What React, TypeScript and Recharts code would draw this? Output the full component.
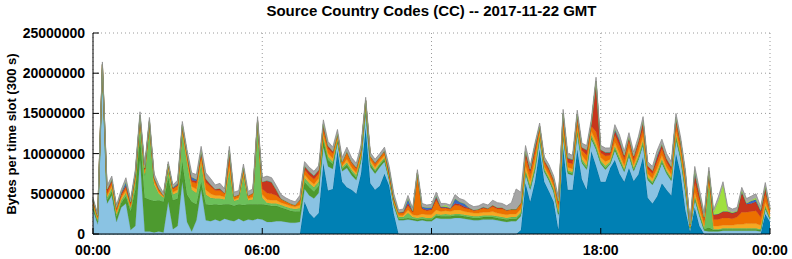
import { AreaChart, Area, XAxis, YAxis, CartesianGrid } from "recharts";

const MB = 1000000;
const title = "Source Country Codes (CC) -- 2017-11-22 GMT";
const yLabel = "Bytes per time slot (300 s)";
const xTicks = [0, 360, 720, 1080, 1440];
const xLabels = ["00:00", "06:00", "12:00", "18:00", "00:00"];
const yTicks = [0, 5, 10, 15, 20, 25];

// values in MB, one per 10 minutes (00:00 .. 24:00), bottom layer first
const teal = [
  0, 0, 0, 0, 0, 0, 0, 0, 0, 0, 0, 0, 0, 0, 0, 0, 0, 0, 0, 0, 0, 0, 0, 0, 0, 0, 0, 0, 0, 0, 0, 0, 0, 0, 0, 0, 0,
  0, 0, 0, 0, 0, 0, 0, 0, 4.0, 2.6, 2.0, 2.6, 8.8, 5.4, 5.6, 10.4, 6.5, 5.8, 5.5, 5.0, 7.5, 13.2, 6.3, 5.5, 6.0, 7.5, 6.0, 2.5, 0, 0, 0, 0, 0, 0, 0, 0,
  0, 0, 0, 0, 0, 0, 0, 0, 0, 0, 0, 0, 0, 0, 0, 0, 0, 0, 0.5, 6.3, 4.0, 6.5, 10.5, 6.5, 5.3, 4.0, 0.5, 10.7, 5.5, 5.5, 10.5, 6.8, 5.5, 10.3, 8.5, 6.5,
  6.5, 8.2, 9.2, 7.5, 6.5, 8.2, 6.6, 7.4, 9.6, 4.5, 3.8, 4.7, 6.3, 5.5, 4.8, 10.0, 7.5, 3.0, 0.3, 3.3, 1.0, 0, 0, 0, 0, 0, 0, 0, 0, 0, 0, 0, 0, 0, 2.5, 1.5,
];
const lightBlue = [
  3.0, 1.2, 20.2, 3.8, 4.8, 1.5, 3.3, 3.8, 0.5, 1.0, 9.2, 0.3, 0.3, 0.2, 0.3, 0.2, 4.0, 0.6, 1.0, 6.5, 1.5, 0.3, 1.7, 5.5, 1.7, 1.6, 1.8, 1.6, 1.9, 1.7, 1.6, 1.9, 1.6, 1.8, 1.7, 1.9, 1.8,
  1.5, 1.5, 1.6, 1.6, 1.5, 1.4, 1.4, 1.5, 1.6, 2.2, 2.4, 2.5, 2.0, 3.0, 2.5, 1.0, 1.3, 2.4, 1.8, 1.7, 1.5, 2.0, 2.0, 2.0, 2.3, 1.5, 0.7, 1.0, 1.7, 1.7, 1.8, 1.7, 1.6, 1.7, 1.6, 1.6,
  2.0, 1.9, 1.9, 1.9, 2.0, 2.0, 1.9, 1.8, 1.7, 1.7, 1.8, 1.8, 1.8, 1.7, 1.6, 1.5, 1.6, 1.6, 1.7, 1.2, 1.5, 1.4, 1.3, 1.2, 1.3, 1.2, 1.8, 1.5, 2.0, 1.8, 2.0, 2.0, 2.5, 1.5, 2.0, 2.2,
  1.5, 0.5, 1.2, 1.5, 1.2, 1.5, 1.2, 1.8, 1.5, 2.2, 2.3, 2.5, 2.5, 2.0, 1.8, 1.8, 1.8, 2.2, 0.3, 1.0, 1.2, 0.4, 0.3, 0.3, 0.3, 0.4, 0.4, 0.4, 0.4, 0.4, 0.4, 0.4, 0.4, 0.3, 0.6, 0.3,
];
const green = [
  0.3, 0.3, 0.2, 0.4, 0.5, 0.6, 0.6, 0.9, 2.3, 4.5, 3.0, 4.2, 4.0, 3.9, 3.9, 3.8, 3.0, 3.6, 3.4, 2.5, 3.4, 3.7, 2.0, 1.0, 2.0, 2.0, 1.9, 2.0, 1.8, 2.0, 1.9, 1.8, 2.0, 1.9, 2.0, 1.8, 1.9,
  2.1, 2.0, 1.9, 1.7, 1.6, 1.5, 1.4, 1.3, 0.9, 1.0, 0.9, 0.9, 0.8, 0.8, 0.6, 0.2, 0.3, 0.4, 0.4, 0.3, 0.3, 0.2, 0.3, 0.3, 0.3, 0.3, 0.2, 0.2, 0.2, 0.2, 0.2, 0.2, 0.2, 0.2, 0.2, 0.2,
  0.3, 0.3, 0.3, 0.3, 0.3, 0.3, 0.3, 0.3, 0.3, 0.3, 0.3, 0.3, 0.3, 0.3, 0.3, 0.3, 0.3, 0.3, 0.3, 0.2, 0.2, 0.2, 0.2, 0.2, 0.2, 0.2, 0.2, 0.2, 0.2, 0.2, 0.2, 0.2, 0.2, 0.2, 0.2, 0.2,
  0.2, 0.1, 0.2, 0.2, 0.2, 0.2, 0.2, 0.2, 0.2, 0.2, 0.2, 0.2, 0.2, 0.2, 0.2, 0.2, 0.2, 0.2, 0.1, 0.2, 0.2, 0.2, 0.5, 0.2, 0.2, 0.2, 0.2, 0.2, 0.2, 0.2, 0.2, 0.2, 0.2, 0.2, 0.2, 0.1,
];
const lightGreen = [
  0.2, 0.2, 0.2, 0.3, 0.4, 0.3, 0.3, 0.4, 0.4, 1.0, 1.6, 2.8, 8.9, 2.1, 0.8, 0.5, 1.0, 0.7, 0.8, 3.5, 4.0, 1.5, 1.4, 2.4, 1.2, 0.9, 0.7, 0.8, 0.6, 4.2, 0.6, 0.6, 3.6, 0.5, 0.6, 9.6, 0.8,
  0.3, 0.3, 0.3, 0.3, 0.3, 0.3, 0.3, 0.4, 0.5, 0.5, 0.5, 0.5, 0.4, 0.4, 0.3, 0.2, 0.2, 0.3, 0.3, 0.3, 0.2, 0.6, 0.3, 0.2, 0.2, 0.2, 0.1, 0.1, 0.2, 0.2, 0.6, 0.2, 0.2, 0.2, 0.2, 0.2,
  0.2, 0.2, 0.3, 0.2, 0.2, 0.2, 0.2, 0.2, 0.2, 0.2, 0.2, 0.2, 0.2, 0.2, 0.2, 0.2, 0.2, 0.2, 0.2, 0.2, 0.3, 0.3, 0.3, 0.2, 0.2, 0.2, 0.2, 0.3, 0.2, 0.2, 0.3, 0.3, 0.3, 0.3, 0.3, 0.2,
  0.3, 0.2, 0.3, 0.3, 0.2, 0.3, 0.2, 0.3, 0.3, 0.2, 0.2, 0.3, 0.3, 0.2, 0.2, 0.3, 0.3, 0.3, 0.1, 0.2, 0.2, 0.1, 5.8, 0.1, 0.1, 0.1, 0.1, 0.1, 0.1, 0.1, 0.1, 0.1, 0.1, 0.1, 0.2, 0.1,
];
const yellow = [
  0.2, 0.2, 0.2, 0.3, 0.3, 0.3, 0.3, 0.3, 0.2, 0.3, 0.3, 0.3, 0.3, 0.3, 0.2, 0.1, 0.3, 0.3, 0.3, 0.3, 0.4, 0.4, 0.5, 0.4, 0.6, 0.5, 0.4, 0.4, 0.3, 0.6, 0.2, 0.2, 0.3, 0.2, 0.3, 0.3, 0.4,
  0.4, 0.4, 0.4, 0.3, 0.3, 0.3, 0.3, 0.4, 0.4, 0.4, 0.4, 0.4, 0.4, 0.4, 0.4, 0.2, 0.2, 0.4, 0.3, 0.3, 0.3, 0.2, 0.3, 0.3, 0.3, 0.3, 0.2, 0.2, 0.2, 0.2, 0.4, 0.3, 0.3, 0.4, 0.4, 0.4,
  0.5, 0.4, 0.4, 0.4, 0.5, 0.5, 0.4, 0.4, 0.4, 0.4, 0.4, 0.4, 0.5, 0.4, 0.4, 0.4, 0.4, 0.4, 0.4, 0.6, 0.6, 0.8, 0.4, 0.3, 0.3, 0.3, 0.4, 0.5, 0.4, 0.4, 0.4, 0.5, 0.5, 0.5, 0.5, 0.4,
  0.5, 0.3, 0.5, 0.5, 0.4, 0.5, 0.4, 0.5, 0.6, 0.4, 0.4, 0.5, 0.5, 0.4, 0.4, 0.5, 0.4, 0.4, 0.1, 0.5, 0.5, 0.4, 0.2, 0.4, 0.4, 0.4, 0.4, 0.4, 0.5, 0.5, 0.6, 0.6, 0.6, 0.5, 0.5, 0.3,
];
const orange = [
  0.3, 0.2, 0.2, 0.3, 0.4, 0.3, 0.3, 0.4, 0.3, 0.4, 0.4, 0.4, 0.4, 0.4, 0.3, 0.2, 0.3, 0.4, 0.5, 0.5, 0.5, 0.6, 0.7, 0.6, 0.9, 0.9, 0.6, 0.6, 0.4, 0.8, 0.3, 0.3, 0.5, 0.3, 0.4, 0.4, 0.7,
  0.8, 0.8, 0.6, 0.4, 0.3, 0.3, 0.2, 0.5, 0.6, 0.6, 0.6, 0.6, 0.6, 0.6, 0.6, 0.4, 0.4, 0.8, 0.5, 0.5, 0.5, 0.3, 0.4, 0.4, 0.4, 0.4, 0.3, 0.3, 0.3, 0.3, 0.5, 0.3, 5.2, 0.6, 0.5, 0.6,
  1.2, 0.4, 0.3, 0.3, 0.6, 0.5, 0.4, 0.4, 0.3, 0.4, 0.5, 0.4, 0.6, 0.5, 0.6, 0.5, 0.5, 0.5, 0.6, 1.0, 0.9, 1.0, 0.5, 0.5, 0.5, 0.5, 0.6, 0.8, 0.6, 0.6, 0.7, 0.6, 0.8, 0.6, 1.2, 0.6,
  0.7, 0.5, 0.9, 0.9, 0.8, 0.8, 0.6, 0.8, 0.9, 0.6, 0.6, 0.8, 0.8, 0.6, 0.6, 0.8, 0.8, 0.8, 0.2, 1.2, 1.0, 0.6, 0.4, 0.8, 0.8, 0.9, 0.9, 0.8, 0.9, 1.5, 1.4, 1.5, 1.6, 1.0, 1.0, 0.5,
];
const red = [
  0.2, 0.2, 0.1, 0.4, 0.3, 0.3, 0.2, 0.2, 0.2, 0.3, 0.1, 0.1, 0.1, 0.1, 0.1, 0, 0.1, 0.1, 0.1, 0.2, 0.2, 0.2, 0.3, 0.2, 0.4, 0.3, 0.2, 0.2, 0.1, 1.0, 0.1, 0.1, 0.2, 0.1, 0.1, 0.1, 0.9,
  1.5, 1.4, 0.7, 0.1, 0.1, 0, 0, 0.2, 0.4, 0.4, 0.4, 0.4, 0.6, 0.3, 0.3, 0.1, 0.1, 0.2, 0.2, 0.2, 0.2, 0.1, 0.1, 0.2, 0.1, 0.2, 0.1, 0.1, 0.1, 0.1, 0.3, 0.1, 0.1, 0.1, 0.1, 0.1,
  0.3, 0.1, 0.1, 0.1, 0.2, 0.2, 0.2, 0.1, 0.1, 0.1, 0.1, 0.1, 0.2, 0.2, 0.2, 0.1, 0.1, 0.1, 0.2, 0.8, 0.4, 0.4, 0.2, 0.3, 0.4, 0.4, 0.4, 0.9, 0.5, 0.5, 0.8, 0.4, 0.6, 0.4, 6.3, 0.4,
  0.4, 0.3, 0.5, 0.6, 0.5, 0.6, 0.5, 0.6, 0.9, 0.4, 0.4, 0.5, 0.5, 0.5, 0.4, 0.8, 0.5, 0.6, 0.1, 1.0, 0.8, 0.4, 0.6, 0.6, 0.7, 0.8, 0.8, 0.7, 0.7, 2.5, 1.0, 1.0, 1.1, 0.8, 0.8, 0.3,
];
const blue = [
  0.1, 0, 0, 0.1, 0.1, 0, 0.2, 0.5, 0.1, 0.1, 0.2, 0.1, 0.1, 0.1, 0.1, 0, 0, 0.1, 0.2, 0.1, 0.1, 0.4, 0.2, 0.3, 0.1, 0, 0, 0.1, 0, 0.1, 0, 0, 0.1, 0, 0, 0, 0,
  0.1, 0.1, 0, 0, 0, 0, 0, 0, 0.1, 0.1, 0.1, 0.1, 0.1, 0.1, 0, 0, 0, 0, 0, 0, 0, 0, 0, 0, 0, 0, 0.4, 0.2, 0, 0.1, 0.6, 0.1, 0, 0.2, 0.3, 0.2,
  0.3, 0.1, 0.1, 0, 0.6, 0.3, 0.4, 0.1, 0, 0, 0.1, 0, 0, 0, 0, 0, 0, 0, 0, 0.1, 0.2, 0.4, 0, 0, 0, 0, 0, 0.1, 0.1, 0.1, 0, 0, 0.1, 0, 0, 0,
  0.1, 0.1, 0.3, 0.3, 0, 0, 0, 0, 0.1, 0, 0, 0.4, 0.1, 0, 0, 0.1, 0, 0, 0, 0.5, 0.1, 0, 0, 0, 0, 0, 0, 0, 0, 0.1, 0.1, 0.3, 0.3, 0, 0.1, 0,
];
const lime = [
  0, 0, 0, 0, 0, 0, 0, 0, 0, 0, 0, 0, 0, 0, 0, 0, 0, 0, 0, 0, 0, 0, 0, 0, 0, 0, 0, 0, 0, 0, 0, 0, 0, 0, 0, 0, 0,
  0, 0, 0, 0, 0, 0, 0, 0, 0, 0, 0, 0, 0, 0, 0, 0, 0, 0, 0, 0, 0, 0, 0, 0, 0, 0, 0, 0, 0, 0, 0, 0, 0, 0, 0, 0,
  0, 0, 0.2, 0, 0, 0, 0, 0, 0, 0, 0, 0, 0, 0, 0, 0, 0, 0, 0, 0, 0, 0, 0, 0, 0, 0, 0, 0, 0, 0, 0, 0, 0, 0, 0, 0,
  0, 0, 0, 0, 0, 0, 0, 0, 0, 0, 0, 0, 0, 0, 0, 0, 0, 0, 0, 0, 0, 0, 0, 0.3, 1.6, 3.3, 0.2, 0.1, 0.1, 0.1, 0.1, 0.1, 0.2, 0.1, 0, 0,
];
const gray = [
  0.2, 0.2, 0.3, 0.4, 0.4, 0.3, 0.3, 0.5, 0.3, 0.4, 0.4, 0.4, 0.4, 0.4, 0.4, 0.3, 0.3, 0.3, 0.4, 0.4, 0.4, 0.5, 0.6, 0.5, 0.7, 0.7, 0.5, 0.6, 0.5, 0.5, 0.5, 0.5, 0.4, 0.5, 0.5, 0.5, 0.5,
  0.5, 0.5, 0.5, 0.5, 0.4, 0.4, 0.4, 0.5, 0.5, 0.5, 0.5, 0.5, 0.5, 0.5, 0.5, 0.5, 0.5, 0.5, 0.5, 0.5, 0.5, 0.4, 0.4, 0.4, 0.4, 0.4, 0.4, 0.4, 0.3, 0.3, 0.4, 0.3, 0.4, 0.4, 0.3, 0.4,
  0.4, 0.4, 0.2, 0.4, 0.5, 0.4, 0.4, 0.4, 0.4, 0.4, 0.4, 0.4, 0.6, 0.6, 0.5, 0.5, 0.8, 2.5, 1.3, 0.6, 0.4, 0.3, 0.4, 0.4, 0.4, 0.4, 0.5, 0.5, 0.5, 0.5, 0.5, 0.5, 0.5, 0.5, 0.5, 0.5,
  0.5, 0.5, 0.5, 0.5, 0.5, 0.5, 0.5, 0.5, 0.5, 0.5, 0.5, 0.5, 0.6, 0.6, 0.6, 0.5, 0.5, 0.5, 0.3, 0.5, 0.5, 0.5, 0.5, 0.3, 0.5, 0.4, 0.4, 0.4, 0.4, 0.4, 0.5, 0.5, 0.5, 0.4, 0.5, 0.3,
];

const series = [
  { key: "teal", values: teal, fill: "#0080b4", stroke: "#006a96" },
  { key: "lightBlue", values: lightBlue, fill: "#8ac3e3", stroke: "#72acd0" },
  { key: "green", values: green, fill: "#4d9a2f", stroke: "#418828" },
  { key: "lightGreen", values: lightGreen, fill: "#6cc05a", stroke: "#5cad4c" },
  { key: "yellow", values: yellow, fill: "#f5a822", stroke: "#e69818" },
  { key: "orange", values: orange, fill: "#ec7000", stroke: "#d96400" },
  { key: "red", values: red, fill: "#c8361c", stroke: "#b02c14" },
  { key: "blue", values: blue, fill: "#3a68c0", stroke: "#2e58a8" },
  { key: "lime", values: lime, fill: "#a0e040", stroke: "#8ccc34" },
  { key: "gray", values: gray, fill: "#a6a6a6", stroke: "#8c8c8c" },
];

const data = teal.map((_, i) => {
  const row: any = { t: i * 10 };
  series.forEach((s) => {
    row[s.key] = s.values[i];
  });
  return row;
});

const font = "'Liberation Sans', Arial, sans-serif";
const tickStyle = { fontSize: 14, fontWeight: "bold", fill: "#000", fontFamily: font };

export default function App() {
  return (
    <div style={{ position: "absolute", left: 0, top: 0, width: 792, height: 259, background: "#fff" }}>
      <div
        style={{
          position: "absolute",
          left: 93,
          width: 677,
          top: 2,
          textAlign: "center",
          fontFamily: font,
          fontWeight: "bold",
          fontSize: 15,
          lineHeight: "17px",
        }}
      >
        {title}
      </div>
      <div
        style={{
          position: "absolute",
          left: 11,
          top: 134,
          transform: "translate(-50%, -50%) rotate(-90deg)",
          whiteSpace: "nowrap",
          fontFamily: font,
          fontWeight: "bold",
          fontSize: 13,
        }}
      >
        {yLabel}
      </div>
      <AreaChart width={792} height={259} data={data} margin={{ top: 33, right: 22, bottom: 0, left: 0 }}>
        <CartesianGrid stroke="#9a9a9a" strokeDasharray="1 3" />
        <XAxis
          dataKey="t"
          type="number"
          domain={[0, 1440]}
          ticks={xTicks}
          tickFormatter={(v, i) => xLabels[i]}
          height={25}
          tickSize={-6}
          tickMargin={17}
          tick={tickStyle}
          stroke="#000"
          tickLine={{ stroke: "#000" }}
          axisLine={{ stroke: "#000" }}
        />
        <XAxis
          xAxisId="top"
          orientation="top"
          type="number"
          domain={[0, 1440]}
          ticks={xTicks}
          height={0}
          tickSize={-6}
          tick={() => <g />}
          tickLine={{ stroke: "#000" }}
          axisLine={{ stroke: "#000" }}
        />
        <YAxis
          type="number"
          domain={[0, 25]}
          ticks={yTicks}
          tickFormatter={(v) => String(v * MB)}
          width={93}
          tickSize={-6}
          tickMargin={14}
          tick={tickStyle}
          tickLine={{ stroke: "#000" }}
          axisLine={{ stroke: "#000" }}
        />
        <YAxis
          yAxisId="right"
          orientation="right"
          type="number"
          domain={[0, 25]}
          ticks={yTicks}
          width={0}
          tickSize={-6}
          tick={() => <g />}
          tickLine={{ stroke: "#000" }}
          axisLine={{ stroke: "#000" }}
        />
        {series.map((s) => (
          <Area
            key={s.key}
            dataKey={s.key}
            stackId="cc"
            type="linear"
            fill={s.fill}
            fillOpacity={1}
            stroke={s.stroke}
            strokeWidth={0.8}
            dot={false}
            activeDot={false}
            isAnimationActive={false}
          />
        ))}
      </AreaChart>
    </div>
  );
}
